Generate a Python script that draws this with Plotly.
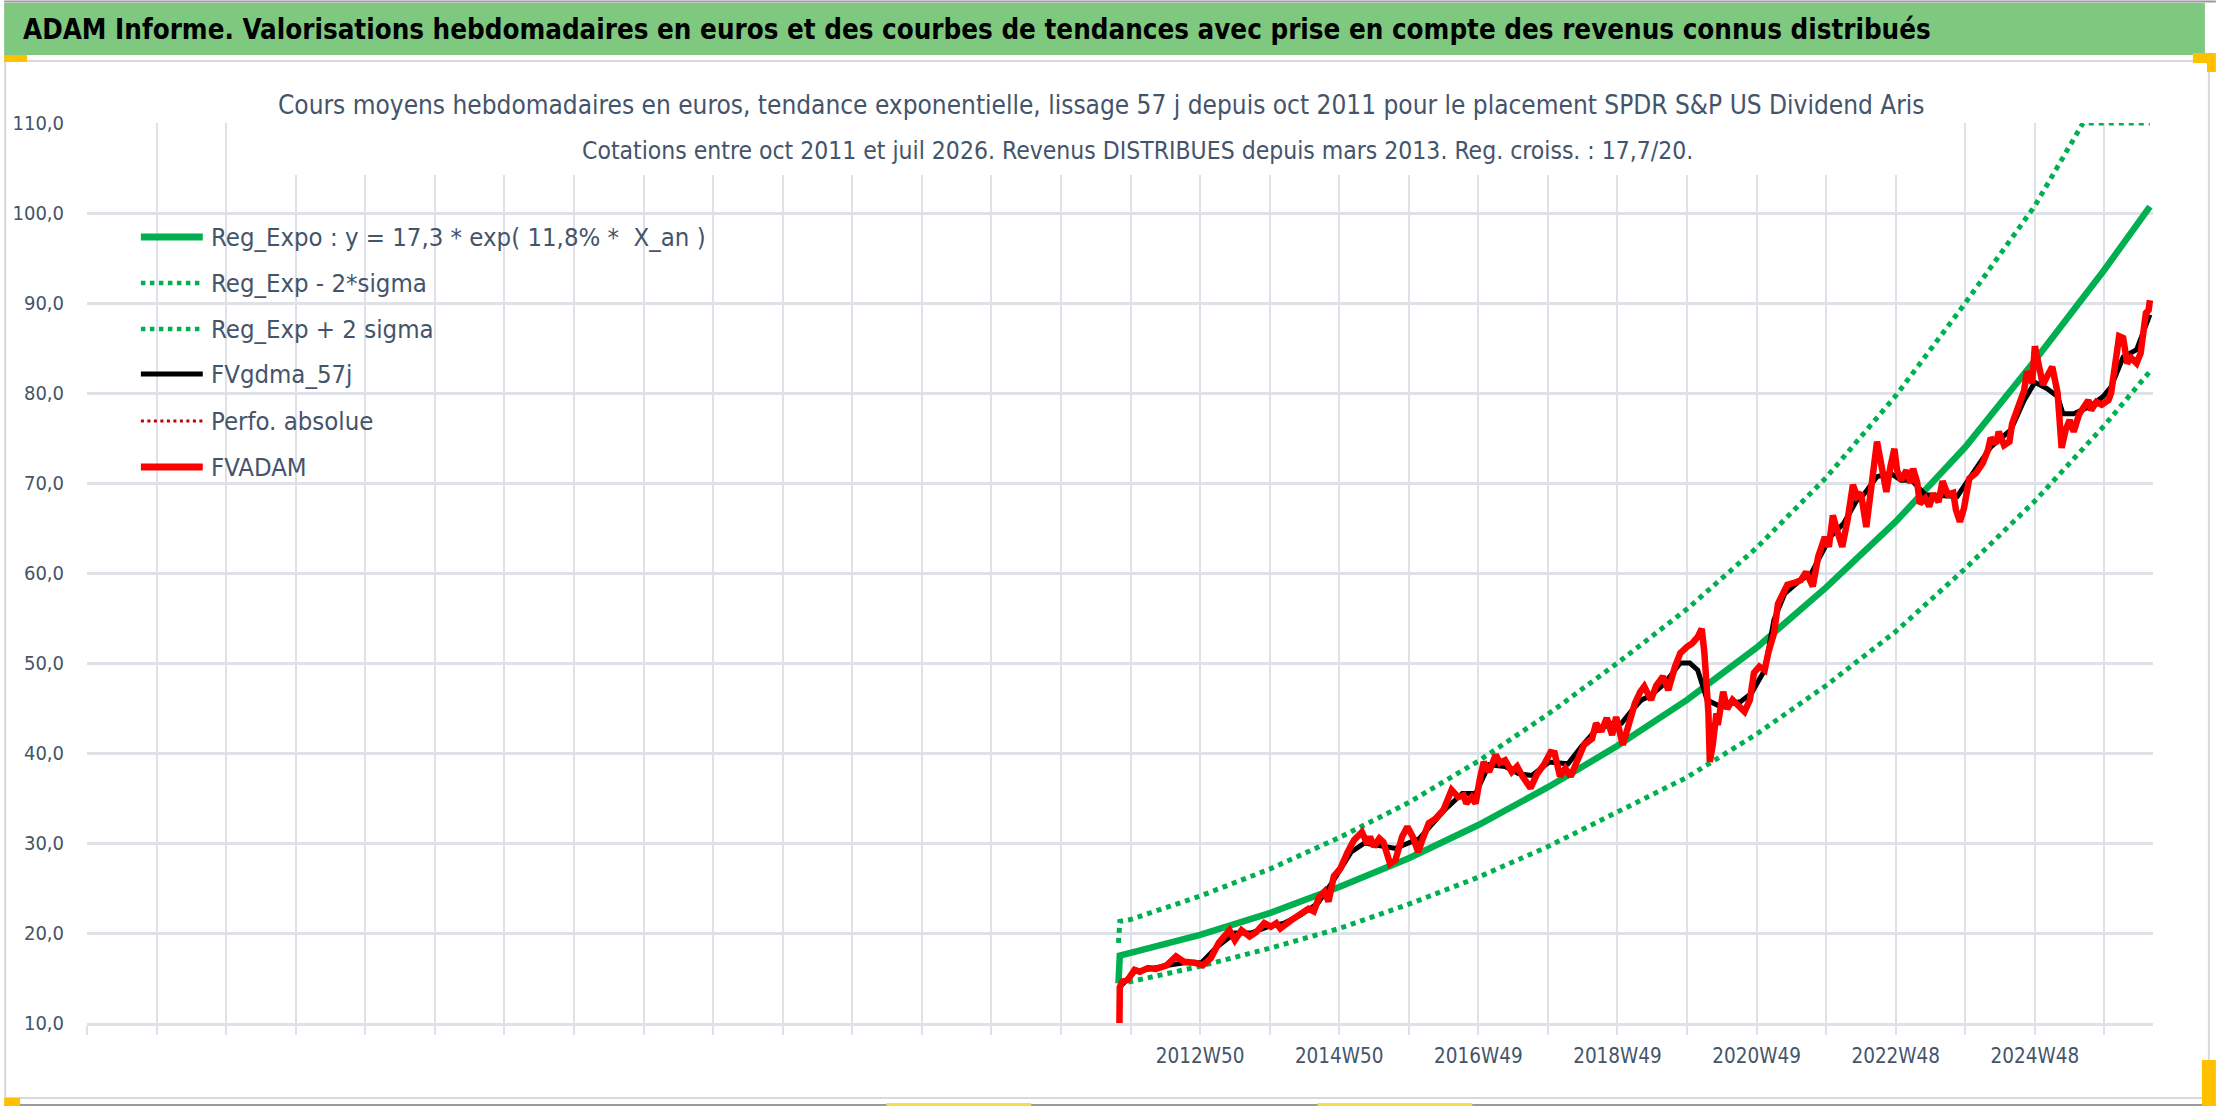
import plotly.graph_objects as go

# ---------------- data (x = weeks since 2011W41) ----------------
reg_weeks = [0, 1, 9, 61, 113, 165, 217, 269, 321, 373, 425, 477, 529, 581, 633, 685, 737, 771]
reg_values = [14.4, 17.5, 17.8, 19.8, 22.2, 25.1, 28.3, 32.0, 36.2, 40.8, 45.9, 51.7, 58.4, 65.7, 74.0, 83.6, 93.7, 100.7]

upper_weeks = [0, 1, 9, 61, 113, 165, 217, 269, 321, 373, 425, 477, 529, 581, 633, 685, 721, 771]
upper_values = [18.9, 21.3, 21.5, 24.1, 27.1, 30.6, 34.5, 39.1, 44.3, 50.0, 56.0, 62.8, 70.6, 79.7, 90.0, 100.8, 110.0, 110.0]

lower_weeks = [0, 9, 61, 113, 165, 217, 269, 321, 373, 425, 477, 529, 581, 633, 685, 737, 771]
lower_values = [14.3, 14.6, 16.3, 18.3, 20.5, 23.2, 26.2, 29.6, 33.4, 37.3, 42.1, 47.5, 53.5, 60.5, 68.0, 76.4, 82.4]

fv_weeks = [0, 1, 3, 7, 12, 16, 22, 28, 36, 43, 49, 57, 63, 69, 75, 83, 87, 92, 98, 103,
            109, 114, 118, 121, 129, 136, 142, 146, 150, 154, 157, 161, 166, 171, 176, 182, 186, 188, 191, 195,
            198, 203, 207, 212, 216, 220, 224, 228, 232, 237, 243, 249, 254, 258, 260, 264, 267, 270, 273, 277,
            282, 285, 289, 294, 298, 302, 308, 313, 318, 323, 326, 330, 334, 338, 343, 348, 354, 357, 361, 365,
            369, 372, 377, 381, 383, 386, 390, 393, 398, 402, 407, 411, 416, 420, 425, 429, 433, 436, 438, 441,
            442, 444, 447, 448, 452, 455, 459, 463, 468, 472, 475, 479, 483, 486, 490, 493, 496, 500, 505, 510,
            514, 519, 523, 528, 531, 534, 537, 541, 545, 549, 552, 555, 559, 562, 567, 570, 574, 577, 580, 582,
            585, 589, 592, 594, 597, 599, 603, 606, 609, 613, 616, 620, 624, 626, 629, 632, 636, 641, 646, 650,
            652, 656, 658, 662, 666, 668, 671, 674, 677, 679, 683, 685, 688, 691, 694, 698, 702, 705, 708, 711,
            714, 718, 721, 725, 727, 731, 735, 740, 742, 745, 748, 751, 754, 757, 761, 764, 768, 770, 771]
fv_values = [0.0, 14.0, 14.6, 14.8, 15.9, 15.7, 16.1, 16.0, 16.4, 17.4, 16.8, 16.7, 16.4, 17.2, 18.9, 20.3, 19.2, 20.3, 19.6, 20.1,
             21.1, 20.7, 21.1, 20.5, 21.4, 22.2, 22.7, 22.4, 24.0, 24.6, 23.5, 26.3, 27.2, 28.9, 30.3, 31.2, 29.9, 30.7, 29.6, 30.5,
             30.1, 27.7, 28.1, 30.7, 31.8, 30.7, 29.0, 30.7, 32.2, 32.7, 33.7, 35.9, 35.1, 35.3, 34.4, 35.1, 34.4, 37.0, 39.0, 37.9,
             39.8, 38.9, 39.2, 37.9, 38.5, 37.4, 36.1, 37.7, 38.7, 40.1, 40.0, 37.4, 38.3, 37.4, 39.0, 40.9, 41.6, 43.3, 42.4, 43.9,
             42.0, 44.0, 40.9, 42.9, 44.4, 45.5, 46.8, 47.4, 45.9, 47.5, 48.5, 47.0, 49.6, 51.1, 51.8, 52.2, 52.9, 53.8, 51.1, 44.4,
             39.0, 40.7, 44.4, 43.1, 46.8, 44.9, 45.9, 45.3, 44.6, 45.9, 48.9, 49.6, 49.2, 51.3, 53.3, 56.6, 57.7, 58.7, 58.9, 59.2,
             60.1, 58.5, 61.8, 64.0, 62.9, 66.4, 64.8, 62.9, 65.9, 69.8, 68.5, 68.9, 65.1, 68.5, 74.6, 72.2, 69.0, 71.8, 73.8, 71.4,
             70.3, 71.4, 70.0, 71.6, 70.1, 67.7, 68.3, 67.4, 68.8, 67.9, 70.2, 68.7, 68.9, 67.0, 65.7, 67.2, 70.5, 71.1, 72.2, 73.7,
             75.0, 74.4, 75.7, 74.2, 74.6, 76.6, 77.9, 78.9, 80.3, 82.4, 81.1, 85.2, 82.9, 80.9, 81.8, 82.9, 80.0, 73.9, 75.9, 77.0,
             75.7, 77.6, 78.3, 79.2, 78.1, 79.0, 78.7, 79.2, 80.0, 83.3, 86.3, 86.1, 83.3, 83.9, 83.3, 84.4, 88.9, 89.2, 90.3]

ma_weeks = [1, 12, 37, 49, 62, 74, 87, 99, 112, 124, 136, 149, 161, 174, 184, 207, 225, 244, 257, 267,
            277, 289, 299, 309, 322, 336, 346, 356, 369, 376, 383, 391, 398, 408, 420, 427, 433, 440, 448, 465,
            473, 483, 490, 498, 508, 518, 532, 542, 552, 557, 567, 577, 585, 593, 603, 627, 635, 652, 667, 677,
            685, 694, 702, 706, 714, 726, 736, 742, 751, 761, 771]
ma_values = [14.0, 15.7, 16.4, 16.7, 16.7, 18.5, 20.0, 20.0, 20.7, 21.1, 22.0, 23.3, 25.9, 29.0, 30.0, 29.4, 30.5, 33.7, 35.5, 35.5,
             38.7, 38.5, 37.7, 37.5, 39.0, 38.8, 40.7, 42.4, 43.3, 43.3, 44.6, 45.9, 46.4, 47.7, 50.0, 50.0, 49.2, 45.9, 45.3, 45.7,
             46.6, 49.2, 54.8, 57.7, 59.0, 60.0, 64.0, 65.5, 68.1, 68.7, 70.7, 71.1, 70.3, 70.3, 68.7, 68.5, 70.3, 74.0, 75.9, 79.2,
             81.2, 80.5, 79.6, 77.7, 77.7, 78.5, 79.6, 80.7, 84.0, 84.8, 88.7]

x_tick_weeks = [61, 165, 269, 373, 477, 581, 685]
x_tick_labels = ["2012W50", "2014W50", "2016W49", "2018W49", "2020W49", "2022W48", "2024W48"]
y_tick_values = [10, 20, 30, 40, 50, 60, 70, 80, 90, 100, 110]
y_tick_labels = ["10,0", "20,0", "30,0", "40,0", "50,0", "60,0", "70,0", "80,0", "90,0", "100,0", "110,0"]
grid_step = 52
axis_start, axis_end = -771, 773.3

legend_names = ["Reg_Expo : y = 17,3 * exp( 11,8% *  X_an )", "Reg_Exp - 2*sigma", "Reg_Exp + 2 sigma",
                "FVgdma_57j", "Perfo. absolue", "FVADAM"]

banner_text = ("ADAM Informe. Valorisations hebdomadaires en euros et des courbes de tendances "
               "avec prise en compte des revenus connus distribués")
title_line1 = ("Cours moyens hebdomadaires en euros, tendance exponentielle, lissage 57 j depuis oct 2011 "
               "pour le placement SPDR S&P US Dividend Aris")
title_line2 = ("Cotations entre oct 2011 et juil 2026. Revenus DISTRIBUES depuis mars 2013. "
               "Reg. croiss. : 17,7/20.")

# ---------------- styling ----------------
W, H = 2216, 1106
ML, MR, MT, MB = 83, 63, 123, 83
PW, PH = W - ML - MR, H - MT - MB
FONT = "DejaVu Sans Condensed, Liberation Sans Narrow, sans-serif"
TXT = "#44546A"
GRID = "#DEE2E8"
GREEN = "#00B050"
RED = "#FF0000"


def px(x):
    return (x - ML) / PW


def py(y):
    return (H - MB - y) / PH


fig = go.Figure()
fig.add_trace(go.Scatter(x=reg_weeks, y=reg_values, mode="lines", name=legend_names[0],
                         line=dict(color=GREEN, width=6.5)))
fig.add_trace(go.Scatter(x=lower_weeks, y=lower_values, mode="lines", name=legend_names[1],
                         line=dict(color=GREEN, width=5, dash="5px,5px")))
fig.add_trace(go.Scatter(x=upper_weeks, y=upper_values, mode="lines", name=legend_names[2],
                         line=dict(color=GREEN, width=5, dash="5px,5px")))
fig.add_trace(go.Scatter(x=ma_weeks, y=ma_values, mode="lines", name=legend_names[3],
                         line=dict(color="#000000", width=5)))
fig.add_trace(go.Scatter(x=fv_weeks, y=fv_values, mode="lines", name=legend_names[4],
                         line=dict(color="#C00000", width=2, dash="dot")))
fig.add_trace(go.Scatter(x=fv_weeks, y=fv_values, mode="lines", name=legend_names[5],
                         line=dict(color=RED, width=6.5)))

grid_vals = []
g = axis_start
while g <= axis_end:
    grid_vals.append(g)
    g += grid_step
label_map = dict(zip(x_tick_weeks, x_tick_labels))
grid_text = [label_map.get(v, "") for v in grid_vals]

fig.update_layout(
    width=W, height=H,
    margin=dict(l=ML, r=MR, t=MT, b=MB, pad=0),
    paper_bgcolor="white", plot_bgcolor="white",
    showlegend=False,
    font=dict(family=FONT, color=TXT),
    xaxis=dict(range=[axis_start, axis_end], tickmode="array", tickvals=grid_vals, ticktext=grid_text,
               showgrid=True, gridcolor=GRID, gridwidth=2, zeroline=False,
               showline=True, linecolor=GRID, linewidth=3,
               ticks="outside", ticklen=9, tickwidth=2, tickcolor=GRID,
               tickfont=dict(family=FONT, size=20.5, color=TXT), ticklabelstandoff=3),
    yaxis=dict(range=[10, 110], tickmode="array", tickvals=y_tick_values, ticktext=y_tick_labels,
               showgrid=True, gridcolor=GRID, gridwidth=2.5, zeroline=False, showline=False,
               ticks="outside", ticklen=18, tickcolor="rgba(0,0,0,0)",
               tickfont=dict(family=FONT, size=20, color=TXT)),
)

shapes = []
# outer frame
shapes.append(dict(type="line", xref="paper", yref="paper", x0=px(0), x1=px(W), y0=py(1.5), y1=py(1.5),
                   line=dict(color="#9A9A9A", width=2)))
shapes.append(dict(type="line", xref="paper", yref="paper", x0=px(0), x1=px(W), y0=py(1105), y1=py(1105),
                   line=dict(color="#9A9A9A", width=2)))
shapes.append(dict(type="rect", xref="paper", yref="paper", x0=px(1), x1=px(2209), y0=py(1098), y1=py(61),
                   line=dict(color="#D9D9D9", width=2), fillcolor="rgba(0,0,0,0)", layer="below"))
# banner
shapes.append(dict(type="rect", xref="paper", yref="paper", x0=px(0), x1=px(2205), y0=py(55), y1=py(3),
                   line=dict(width=0), fillcolor="#7FC87F", layer="above"))
# white title box hiding gridlines
shapes.append(dict(type="rect", xref="paper", yref="paper", x0=px(267), x1=px(1940), y0=py(175), y1=py(62),
                   line=dict(width=0), fillcolor="white", layer="above"))
# selection handles
for (x0, x1, y0, y1, c) in [(0, 23, 55, 62, "#FFC000"), (2193, 2216, 53, 63, "#FFC000"),
                            (2207, 2216, 63, 72, "#FFC000"), (2202, 2216, 1060, 1106, "#FFC000"),
                            (0, 16, 1098, 1106, "#FFC000"), (884, 1029, 1103, 1106, "#F0E050"),
                            (1316, 1471, 1103, 1106, "#F0E050")]:
    shapes.append(dict(type="rect", xref="paper", yref="paper", x0=px(x0), x1=px(x1), y0=py(y1), y1=py(y0),
                       line=dict(width=0), fillcolor=c, layer="above"))

# manual legend
leg_rows = [237, 283, 329, 374, 421, 467]
leg_styles = [dict(color=GREEN, width=7), dict(color=GREEN, width=4.5, dash="4.5px,4.5px"),
              dict(color=GREEN, width=4.5, dash="4.5px,4.5px"), dict(color="#000000", width=5),
              dict(color="#C00000", width=3, dash="3px,3.5px"), dict(color=RED, width=7)]
annotations = []
for yy, st, name in zip(leg_rows, leg_styles, legend_names):
    shapes.append(dict(type="line", xref="paper", yref="paper", x0=px(137), x1=px(199), y0=py(yy), y1=py(yy),
                       line=st, layer="above"))
    annotations.append(dict(xref="paper", yref="paper", x=px(205), y=py(yy), text=name, showarrow=False,
                            xanchor="left", yanchor="middle", font=dict(family=FONT, size=25.5, color=TXT)))

annotations.append(dict(xref="paper", yref="paper", x=px(17), y=py(29), text="<b>" + banner_text + "</b>",
                        showarrow=False, xanchor="left", yanchor="middle",
                        font=dict(family=FONT, size=27.5, color="#000000")))
annotations.append(dict(xref="paper", yref="paper", x=px(1099), y=py(105), text=title_line1, showarrow=False,
                        xanchor="center", yanchor="middle", font=dict(family=FONT, size=26, color=TXT)))
annotations.append(dict(xref="paper", yref="paper", x=px(1136), y=py(150), text=title_line2, showarrow=False,
                        xanchor="center", yanchor="middle", font=dict(family=FONT, size=24.5, color=TXT)))

fig.update_layout(shapes=shapes, annotations=annotations)
fig.write_html("out.html", config={"displayModeBar": False}, post_script=(
    "document.body.style.margin='0px';document.body.style.padding='0px';"
    "document.documentElement.style.overflow='hidden';"))
